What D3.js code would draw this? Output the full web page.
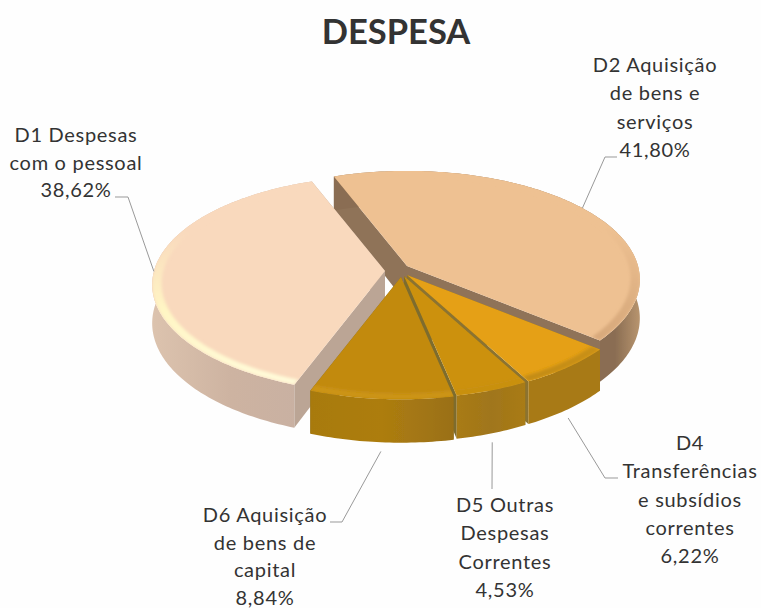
<!DOCTYPE html>
<html>
<head>
<meta charset="utf-8">
<script src="https://cdn.jsdelivr.net/npm/d3@7"></script>
<style>
  html, body { margin: 0; padding: 0; background: #fefefe; }
  text { font-family: Lato, "Open Sans", sans-serif; fill: #333; }
</style>
</head>
<body>
<svg id="chart" width="761" height="608"></svg>
<script>
// Slices in drawing order round the pie, clockwise from the back
const categories = ['D2', 'D4', 'D5', 'D6', 'D1'];
const values = [41.80, 6.22, 4.53, 8.84, 38.62];
const labelLines = [
  ['D2 Aquisição', 'de bens e', 'serviços', '41,80%'],
  ['D4', 'Transferências', 'e subsídios', 'correntes', '6,22%'],
  ['D5 Outras', 'Despesas', 'Correntes', '4,53%'],
  ['D6 Aquisição', 'de bens de', 'capital', '8,84%'],
  ['D1 Despesas', 'com o pessoal', '38,62%']
];
const title = 'DESPESA';

// Where each slice sits once exploded, and its colours
const layout = {
  D2: { x: 407, y: 266, top: '#eec192', wall: '#8f7359', side: ['#8a6d52', '#8a6d52', '#b8956f'], rim: ['#eec192', '#dcae80', '#d2a276'] },
  D4: { x: 407, y: 275, top: '#e5a013', wall: '#8b7330', side: ['#a87a16', '#a87a16', '#a87a16'], rim: ['#e5a013', '#cf9412', '#c08a14'] },
  D5: { x: 404, y: 276, top: '#cc9111', wall: '#7d6c2e', side: ['#a97b14', '#a0761c', '#a97b14'], rim: ['#cc9111', '#cc9111', '#c8900f'] },
  D6: { x: 401, y: 277, top: '#c28a10', wall: '#7d6c2e', side: ['#a87a10', '#ad7d10', '#9a7016'], rim: ['#c28a10', '#d09614', '#cc9412'] },
  D1: { x: 385, y: 271, top: '#f9d9bd', wall: '#bba595', side: ['#dcc3ae', '#cdb3a1', '#c8b0a2'], rim: ['#f9d9bd', '#fff6c4', '#fffbdc'] }
};

// Label text blocks: centre x, first baseline, line height, leader elbow and end
const labelLayout = {
  D2: { x: 655, y: 72, dy: 28.3, leader: [[605, 157], [617, 157]] },
  D4: { x: 690, y: 450, dy: 28.3, leader: [[605, 478], [618, 478]] },
  D5: { x: 505, y: 512, dy: 28.4, leader: [[492, 489]] },
  D6: { x: 265, y: 522, dy: 27.5, leader: [[342, 522], [330, 522]] },
  D1: { x: 76, y: 142, dy: 27.5, leader: [[128, 197], [115, 197]] }
};

const R = 231, Ry = 107, K = 0.125, DEPTH = 38;
const START = -20.7 * Math.PI / 180;
const RIM = 0.96;

const svg = d3.select('#chart');
const defs = svg.append('defs');
defs.append('filter').attr('id', 'soft')
  .append('feGaussianBlur').attr('stdDeviation', 0.6);
defs.append('filter').attr('id', 'rimSoft')
  .attr('x', '-10%').attr('y', '-10%').attr('width', '120%').attr('height', '120%')
  .append('feGaussianBlur').attr('stdDeviation', 1.6);

const pie = d3.pie().sort(null).startAngle(START).endAngle(START + 2 * Math.PI);
const slices = pie(values).map((d, i) => ({ ...d, name: categories[i], lines: labelLines[i] }));

// Perspective view of a point on the disc: angle clockwise from the back
function project(o, angle, r, z) {
  const u = Math.sin(angle) * r;
  const v = Math.cos(angle) * r;
  const s = 1 / (1 + K * v);
  return [o.x + R * u * s, o.y - Ry * v * s + z * s];
}

function arcPoints(o, a0, a1, r, z) {
  const n = Math.max(2, Math.ceil((a1 - a0) * 60));
  return d3.range(n + 1).map(i => project(o, a0 + (a1 - a0) * i / n, r, z));
}

const closed = d3.line().curve(d3.curveLinearClosed);
const open = d3.line();

function gradient(id, colors, x1, y1, x2, y2) {
  const g = defs.append('linearGradient').attr('id', id)
    .attr('gradientUnits', 'userSpaceOnUse')
    .attr('x1', x1).attr('y1', y1).attr('x2', x2).attr('y2', y2);
  colors.forEach((c, i) => g.append('stop').attr('offset', i / (colors.length - 1)).attr('stop-color', c));
  return 'url(#' + id + ')';
}

const pieGroup = svg.append('g').attr('filter', 'url(#soft)');

// back to front so the nearer slices cover the walls behind them
['D2', 'D1', 'D4', 'D5', 'D6'].forEach(name => {
  const d = slices.find(s => s.name === name);
  const o = layout[name];
  const g = pieGroup.append('g');
  const apexTop = project(o, d.startAngle, 0, 0);
  const apexBottom = project(o, d.startAngle, 0, DEPTH);

  // the two cut faces
  [d.startAngle, d.endAngle].forEach(a => {
    g.append('path')
      .attr('d', closed([apexTop, project(o, a, 1, 0), project(o, a, 1, DEPTH), apexBottom]))
      .attr('fill', o.wall);
  });

  // outer side
  const topArc = arcPoints(o, d.startAngle, d.endAngle, 1, 0);
  const bottomArc = arcPoints(o, d.startAngle, d.endAngle, 1, DEPTH);
  const xs = topArc.map(p => p[0]);
  const sideFill = name === 'D2'
    ? gradient('side' + name, o.side, 590, 0, 640, 0)
    : gradient('side' + name, o.side, d3.min(xs), 0, d3.max(xs), 0);
  g.append('path')
    .attr('d', closed(topArc.concat(bottomArc.slice().reverse())))
    .attr('fill', sideFill);

  // top face
  const topPath = closed([apexTop].concat(topArc));
  g.append('path').attr('d', topPath).attr('fill', o.top);
  defs.append('clipPath').attr('id', 'clip' + name).append('path').attr('d', topPath);

  // bevel round the outer edge, brightest towards the viewer
  const innerArc = arcPoints(o, d.startAngle, d.endAngle, RIM, 0);
  const rimFill = gradient('rim' + name, o.rim, 0, o.y - 40, 0, o.y + 120);
  g.append('g').attr('clip-path', 'url(#clip' + name + ')')
    .append('path')
    .attr('d', closed(topArc.concat(innerArc.slice().reverse())))
    .attr('fill', rimFill)
    .attr('filter', 'url(#rimSoft)');
});

// Leader lines start from the middle of the slice and bend towards the label
const leaders = svg.append('g').attr('fill', 'none').attr('stroke', '#999').attr('stroke-width', 1);
slices.forEach(d => {
  const o = layout[d.name];
  const mid = (d.startAngle + d.endAngle) / 2;
  const front = Math.cos(mid) < -0.5;
  const start = project(o, mid, 1, front ? DEPTH + 8 : 0);
  leaders.append('path').attr('d', open([start].concat(labelLayout[d.name].leader)));
});

// Labels
slices.forEach(d => {
  const l = labelLayout[d.name];
  const t = svg.append('text')
    .attr('text-anchor', 'middle')
    .attr('font-size', 20)
    .attr('letter-spacing', 0.7);
  d.lines.forEach((line, i) => {
    t.append('tspan').attr('x', l.x).attr('y', l.y + i * l.dy).text(line);
  });
});

svg.append('text')
  .attr('x', 396)
  .attr('y', 44)
  .attr('text-anchor', 'middle')
  .attr('font-size', 34.5)
  .attr('font-weight', 700)
  .text(title);
</script>
</body>
</html>
